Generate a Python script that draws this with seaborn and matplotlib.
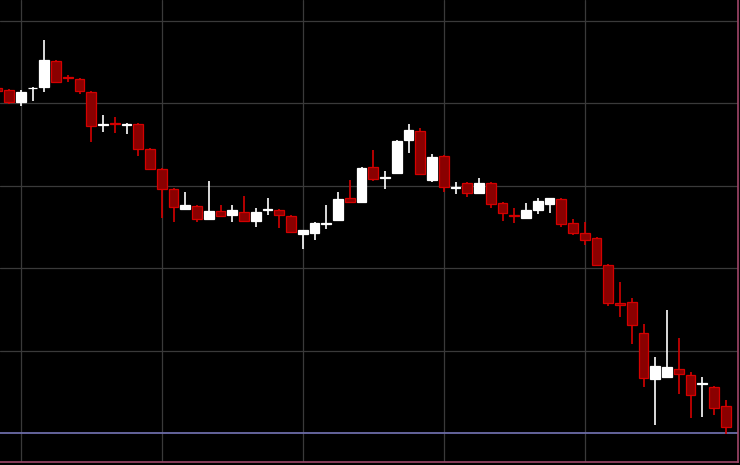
import numpy as np
import pandas as pd
import matplotlib
matplotlib.use("Agg")
import matplotlib.pyplot as plt
import seaborn as sns

# candle data, index -1 is the half-hidden bar at the left edge
idx = list(range(-1, 62))
opens = [1545, 1543, 1531, 1544.5, 1546, 1572, 1555.5, 1554, 1541, 1508.5,
         1510, 1508.5, 1509, 1484, 1464, 1444, 1424, 1427, 1414, 1422,
         1418, 1421, 1412, 1423, 1423, 1417, 1399, 1400, 1409, 1413,
         1435, 1431, 1466, 1455, 1460, 1493, 1502, 1453, 1477, 1445,
         1450, 1440, 1450, 1430, 1418.5, 1415, 1423, 1429, 1434, 1410,
         1400, 1395, 1368, 1330, 1331, 1300, 1254, 1256, 1264, 1258,
         1249, 1246, 1227]
highs = [1547, 1544, 1543, 1546, 1593, 1573, 1558, 1555, 1542, 1518,
         1516, 1510, 1510, 1485, 1465, 1445, 1441, 1428, 1452, 1428,
         1428, 1437, 1425, 1435, 1424, 1418, 1403, 1411, 1428, 1441,
         1453, 1466, 1483, 1462, 1493, 1509, 1505, 1479, 1478, 1451,
         1451, 1455, 1451, 1431, 1425, 1430, 1435, 1435.5, 1435, 1414,
         1411, 1396, 1369, 1351, 1335, 1309, 1276, 1323, 1295, 1261,
         1256, 1247, 1233]
lows = [1541, 1529, 1527, 1532, 1541, 1550, 1551, 1539, 1491, 1501,
        1500, 1499, 1477, 1463, 1415, 1411, 1423.5, 1411, 1413.5, 1416,
        1411, 1411.5, 1406, 1418, 1405, 1400, 1384, 1393, 1404, 1412,
        1430, 1430.5, 1452, 1444, 1459, 1480, 1458, 1451, 1441, 1439,
        1436, 1439.5, 1425, 1412, 1410, 1414, 1419, 1420, 1406, 1398,
        1388, 1367, 1327, 1316, 1289, 1246, 1208, 1255, 1239, 1215,
        1216, 1218, 1199]
closes = [1542, 1531, 1541, 1545, 1573, 1551, 1554.5, 1542, 1507, 1509.5,
          1509, 1509.5, 1484, 1464, 1444, 1426, 1428, 1414, 1422, 1417,
          1423, 1412, 1421, 1424, 1418, 1401, 1403, 1410, 1410.5, 1434,
          1431, 1465, 1454, 1456, 1492, 1503, 1459, 1476, 1446, 1446,
          1440, 1450, 1429, 1420, 1417, 1423, 1432, 1435, 1409, 1400,
          1393, 1368, 1330, 1328, 1308, 1255, 1267, 1266, 1259, 1238,
          1250, 1225, 1206]
ref_level = 1200

df = pd.DataFrame({"i": idx, "open": opens, "high": highs, "low": lows, "close": closes})
df["up"] = df["close"] >= df["open"]

sns.set_style("dark", rc={"axes.facecolor": "black", "figure.facecolor": "black"})

fig = plt.figure(figsize=(7.4, 4.65), dpi=100)
ax = fig.add_axes([0, 3 / 465, 738 / 740, 462 / 465])

up = df[df["up"]]
dn = df[~df["up"]]

# wicks
ax.vlines(up["i"], up["low"], up["high"], color="white", lw=1.2, zorder=3)
ax.vlines(dn["i"], dn["low"], dn["high"], color="#d40000", lw=1.2, zorder=3)

# bodies, keep a minimum height so dojis show as a dash
body_min = 0.8
for sub, fc, ec in [(up, "white", "white"), (dn, "#8a0000", "#d40000")]:
    bottom = np.minimum(sub["open"], sub["close"])
    height = np.maximum((sub["close"] - sub["open"]).abs(), body_min)
    ax.bar(sub["i"], height, bottom=bottom, width=0.84, color=fc,
           edgecolor=ec, linewidth=0.9, zorder=4)

ax.axhline(ref_level, color="#6c6ca8", lw=1.3, zorder=2)

ax.set_xlim(-9 / 11.75, 729 / 11.75)
ax.set_ylim(1171, 1633)
ax.set_xticks([1, 13, 25, 37, 49])
ax.set_yticks([ref_level + 82.4 * k for k in range(1, 6)])
ax.grid(True, color="#3a3a3a", lw=0.9, zorder=0)
ax.set_axisbelow(True)
ax.tick_params(length=0, labelbottom=False, labelleft=False)

for side in ["top", "left"]:
    ax.spines[side].set_visible(False)
for side in ["bottom", "right"]:
    ax.spines[side].set_visible(True)
    ax.spines[side].set_color("#a0486a")
    ax.spines[side].set_linewidth(1.2)

fig.savefig("out.png", dpi=100, facecolor="black")
